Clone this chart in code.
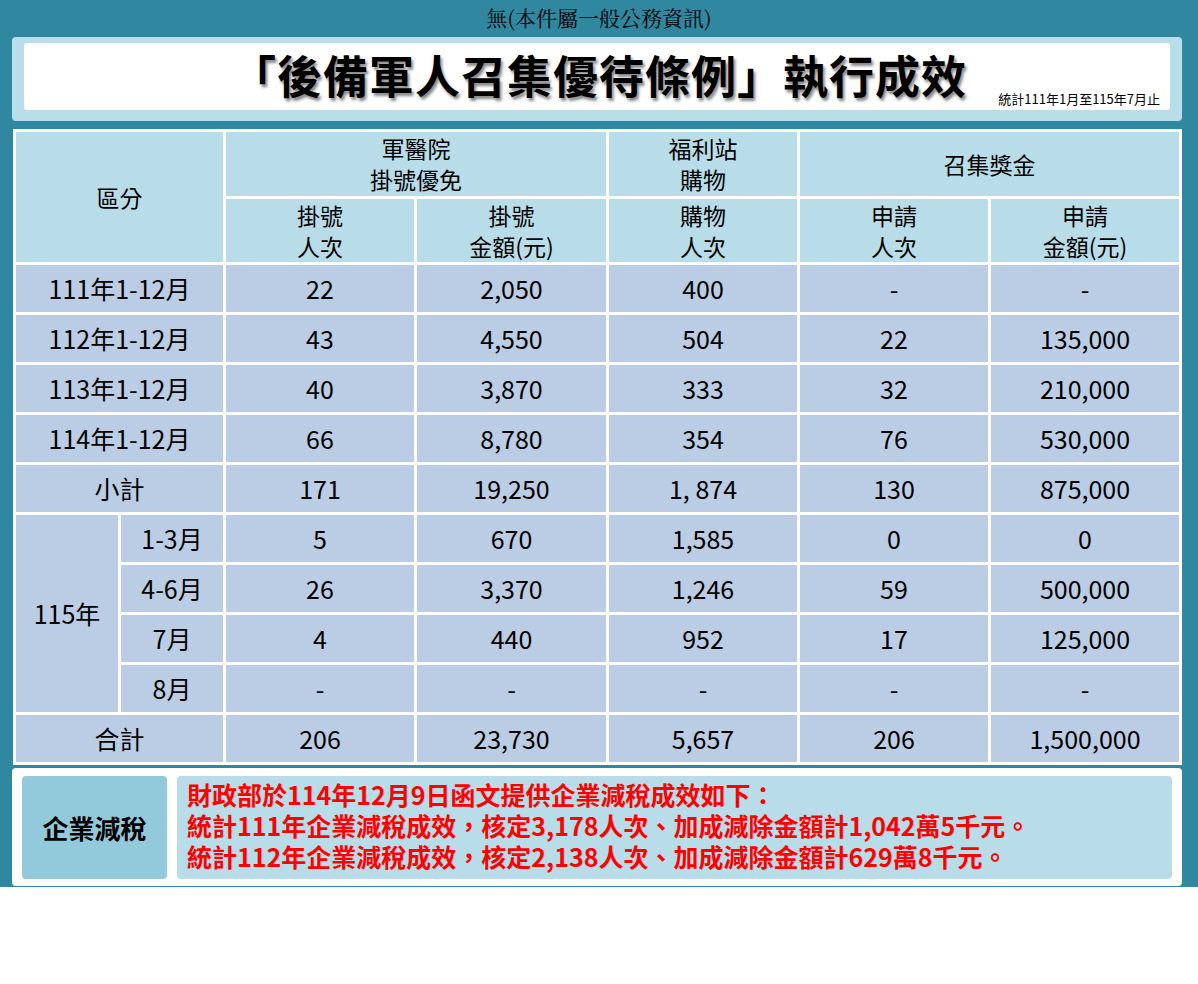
<!DOCTYPE html>
<html><head><meta charset="utf-8">
<script src="https://cdn.jsdelivr.net/npm/chart.js@4/dist/chart.umd.min.js"></script>
<style>
body{margin:0;width:1198px;height:984px;background:#fff;font-family:"Noto Sans CJK TC","Noto Sans",sans-serif;overflow:hidden}
#bg{position:absolute;left:0;top:0;width:1198px;height:887px;background:#2f889f}
#top{position:absolute;left:0;top:2px;width:1198px;text-align:center;font-family:"Noto Serif CJK TC","Noto Sans CJK TC",serif;font-size:21px;color:#000}
#tbox{position:absolute;left:12px;top:37px;width:1170px;height:84px;background:#b8dfe9;border-radius:4px}
#tin{position:absolute;left:12px;top:6px;width:1146px;height:67px;background:#fff;border-radius:3px}
#title{position:absolute;left:205px;top:0;width:740px;text-align:center;font-size:45px;font-weight:bold;line-height:64px;text-shadow:2px 3px 3px #888;letter-spacing:1px}
#sub{position:absolute;right:10px;bottom:2px;font-size:13px}
table{position:absolute;left:13px;top:129px;width:1170px;border-collapse:collapse;table-layout:fixed}
td{border:3px solid #fff;text-align:center;font-size:25px;background:#bacde4;padding:0;line-height:31px}
tr.h td{background:#b8dde9;font-size:23px;line-height:31px}
#bot{position:absolute;left:12px;top:768px;width:1170px;height:118px;background:#fff;border-radius:4px}
#bl{position:absolute;left:10px;top:8px;width:145px;height:103px;background:#93cadb;border-radius:4px;font-size:26px;font-weight:bold;display:flex;align-items:center;justify-content:center}
#br{position:absolute;left:165px;top:8px;width:995px;height:103px;background:#b8dde9;border-radius:4px;color:#f00;font-weight:bold;font-size:25px;line-height:31px;padding:3px 0 0 10px;box-sizing:border-box}
</style></head><body>
<div id="bg"></div>
<div id="top">無(本件屬一般公務資訊)</div>
<div id="tbox"><div id="tin"><div id="title">「後備軍人召集優待條例」執行成效</div><div id="sub">統計111年1月至115年7月止</div></div></div>
<table id="t"></table>
<div id="bot"><div id="bl">企業減稅</div><div id="br">
<div>財政部於114年12月9日函文提供企業減稅成效如下：</div>
<div>統計111年企業減稅成效，核定3,178人次、加成減除金額計1,042萬5千元。</div>
<div>統計112年企業減稅成效，核定2,138人次、加成減除金額計629萬8千元。</div></div></div>
<script>
const rowLabels = ["111年1-12月","112年1-12月","113年1-12月","114年1-12月","小計"];
const subLabels = ["1-3月","4-6月","7月","8月"];
const regCount = ["22","43","40","66","171","5","26","4","-","206"];
const regAmount = ["2,050","4,550","3,870","8,780","19,250","670","3,370","440","-","23,730"];
const shopCount = ["400","504","333","354","1, 874","1,585","1,246","952","-","5,657"];
const bonusCount = ["-","22","32","76","130","0","59","17","-","206"];
const bonusAmount = ["-","135,000","210,000","530,000","875,000","0","500,000","125,000","-","1,500,000"];
const widths=[105,105,191,192,191,191,191,191];
let h='<colgroup>'+widths.map(w=>`<col style="width:${w}px">`).join('')+'</colgroup>';
h+='<tr class="h" style="height:67px"><td colspan="2" rowspan="2">區分</td><td colspan="2">軍醫院<br>掛號優免</td><td>福利站<br>購物</td><td colspan="2">召集獎金</td></tr>';
h+='<tr class="h" style="height:66px"><td>掛號<br>人次</td><td>掛號<br>金額(元)</td><td>購物<br>人次</td><td>申請<br>人次</td><td>申請<br>金額(元)</td></tr>';
const vals=i=>[regCount,regAmount,shopCount,bonusCount,bonusAmount].map(a=>`<td>${a[i]}</td>`).join('');
for(let i=0;i<10;i++){
  let lead='';
  if(i<5) lead=`<td colspan="2">${rowLabels[i]}</td>`;
  else if(i<9) lead=(i==5?'<td rowspan="4">115年</td>':'')+`<td>${subLabels[i-5]}</td>`;
  else lead='<td colspan="2">合計</td>';
  h+=`<tr style="height:50px">${lead}${vals(i)}</tr>`;
}
document.getElementById('t').innerHTML=h;
</script>
</body></html>
